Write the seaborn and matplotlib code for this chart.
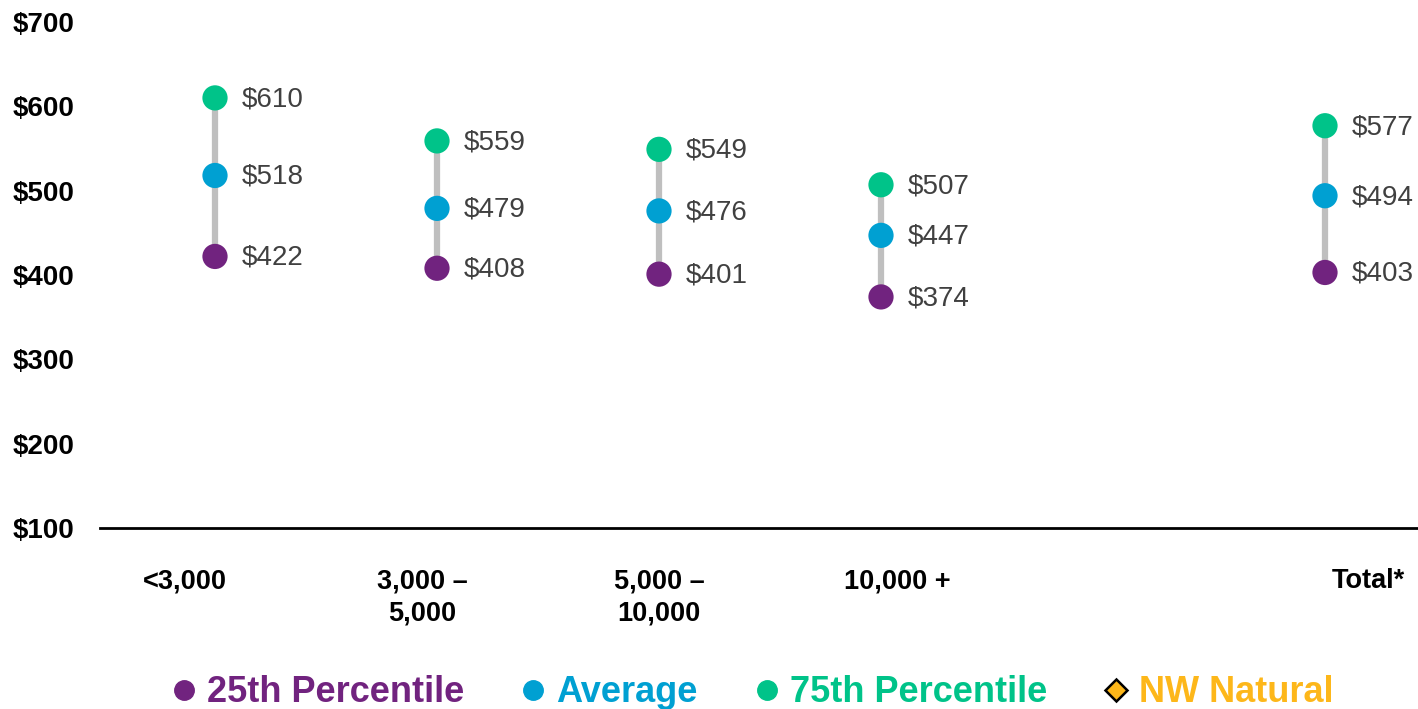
import numpy as np
import pandas as pd
import matplotlib
matplotlib.use("Agg")
import matplotlib.pyplot as plt
from matplotlib.lines import Line2D
import seaborn as sns

# ---------- data
categories = ["<3,000", "3,000 –\n5,000", "5,000 –\n10,000", "10,000 +", "", "Total*"]
p25 = [422, 408, 401, 374, np.nan, 403]
avg = [518, 479, 476, 447, np.nan, 494]
p75 = [610, 559, 549, 507, np.nan, 577]
y_ticks = [100, 200, 300, 400, 500, 600, 700]

# ---------- colours
c_p25 = "#71237F"
c_avg = "#00A0D2"
c_p75 = "#00C389"
c_nw = "#FDB71A"
c_bar = "#BFBFBF"

sns.set_theme(style="white")
plt.rcParams["font.family"] = ["Liberation Sans", "DejaVu Sans"]

pos = np.arange(len(categories))
df = pd.DataFrame({"pos": pos, "category": categories,
                   "25th Percentile": p25, "Average": avg, "75th Percentile": p75})
long = df.melt(id_vars=["pos", "category"], var_name="series", value_name="value").dropna()

fig = plt.figure(figsize=(14.18, 7.09), dpi=100)
ax = fig.add_axes([100 / 1418, 1 - 528 / 709, 1318 / 1418, 506 / 709])

# grey range bars
ok = df.dropna()
ax.vlines(ok["pos"], ok["25th Percentile"], ok["75th Percentile"],
          color=c_bar, lw=4.5, zorder=1)

sns.scatterplot(data=long, x="pos", y="value", hue="series",
                palette={"25th Percentile": c_p25, "Average": c_avg, "75th Percentile": c_p75},
                s=330, edgecolor="none", legend=False, zorder=3, ax=ax)

# value labels
for _, r in long.iterrows():
    ax.annotate(f"${r['value']:.0f}", (r["pos"], r["value"]), xytext=(19, -1),
                textcoords="offset points", ha="left", va="center",
                fontsize=20, color="#404040")

ax.set_xlim(-115 / 222, 1203 / 222)
ax.set_ylim(100, 700)
ax.set_yticks(y_ticks)
ax.set_yticklabels([f"${v}" for v in y_ticks], fontsize=20, fontweight="bold",
                   ha="left", color="black")
ax.tick_params(axis="y", length=0, pad=63)

# category labels sit on their own grid in the original
label_pos = [-0.135, 0.932, 2.0, 3.072, 5.194]
ax.set_xticks(label_pos)
ax.set_xticklabels([c for c in categories if c], fontsize=19.5, fontweight="bold",
                   linespacing=1.3, color="black")
ax.tick_params(axis="x", length=0, pad=29)
ax.set_xlabel("")
ax.set_ylabel("")

for s in ["left", "right", "top"]:
    ax.spines[s].set_visible(False)
ax.spines["bottom"].set_color("black")
ax.spines["bottom"].set_linewidth(2)
ax.grid(False)

# ---------- legend
handles = [
    Line2D([], [], ls="", marker="o", ms=14, color=c_p25),
    Line2D([], [], ls="", marker="o", ms=14, color=c_avg),
    Line2D([], [], ls="", marker="o", ms=14, color=c_p75),
    Line2D([], [], ls="", marker="D", ms=11, markerfacecolor=c_nw,
           markeredgecolor="black", markeredgewidth=1.8),
]
labels = ["25th Percentile", "Average", "75th Percentile", "NW Natural"]
leg = fig.legend(handles, labels, loc="center", bbox_to_anchor=(0.53, 1 - 693 / 709),
                 ncol=4, frameon=False, handlelength=0.8, handletextpad=0.25,
                 columnspacing=1.5, prop={"size": 26, "weight": "bold"})
for t, c in zip(leg.get_texts(), [c_p25, c_avg, c_p75, c_nw]):
    t.set_color(c)

fig.savefig("out.png", dpi=100)
